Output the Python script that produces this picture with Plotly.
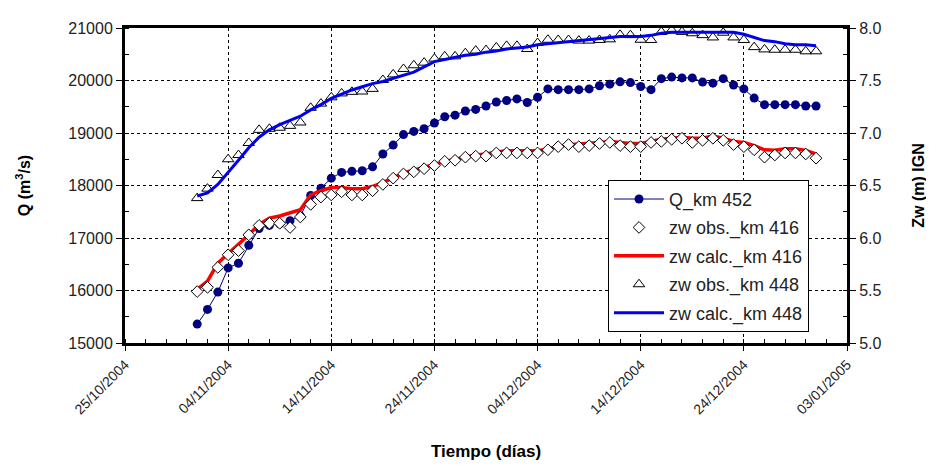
import pandas as pd
import plotly.graph_objects as go

# Daily dates 01/11/2004 .. 31/12/2004
dates = pd.date_range("2004-11-01", "2004-12-31", freq="D")

q_km452 = [15360, 15640, 15970, 16430, 16520, 16860, 17180, 17240, 17270, 17330,
           17420, 17810, 17950, 18140, 18250, 18270, 18280, 18355, 18600, 18770,
           18970, 19030, 19080, 19190, 19310, 19340, 19420, 19450, 19515, 19590,
           19620, 19650, 19580, 19680, 19840, 19825, 19825, 19825, 19840, 19900,
           19930, 19975, 19960, 19885, 19825, 20035, 20065, 20050, 20050, 19970,
           19950, 20035, 19915, 19840, 19665, 19540, 19540, 19540, 19540, 19515,
           19515]

zw_obs_416 = [5.49, 5.53, 5.72, 5.84, 5.88, 6.03, 6.12, 6.14, 6.14, 6.10,
              6.20, 6.32, 6.39, 6.41, 6.44, 6.41, 6.41, 6.45, 6.51, 6.57,
              6.61, 6.63, 6.66, 6.69, 6.73, 6.74, 6.77, 6.78, 6.78, 6.81,
              6.81, 6.81, 6.81, 6.81, 6.84, 6.87, 6.89, 6.87, 6.88, 6.90,
              6.91, 6.88, 6.87, 6.87, 6.91, 6.92, 6.94, 6.95, 6.91, 6.93,
              6.95, 6.93, 6.89, 6.87, 6.84, 6.77, 6.79, 6.81, 6.81, 6.80,
              6.76]

zw_calc_416 = [5.51, 5.59, 5.76, 5.85, 5.93, 6.03, 6.13, 6.19, 6.21, 6.24,
               6.27, 6.41, 6.45, 6.48, 6.48, 6.47, 6.47, 6.49, 6.53, 6.57,
               6.62, 6.645, 6.67, 6.70, 6.73, 6.75, 6.77, 6.79, 6.80, 6.82,
               6.83, 6.83, 6.835, 6.83, 6.85, 6.87, 6.89, 6.895, 6.90, 6.91,
               6.92, 6.91, 6.90, 6.90, 6.92, 6.94, 6.95, 6.96, 6.95, 6.95,
               6.97, 6.95, 6.92, 6.91, 6.88, 6.84, 6.835, 6.85, 6.85, 6.835,
               6.80]

zw_obs_448 = [6.38, 6.47, 6.60, 6.75, 6.79, 6.905, 7.03, 7.04, 7.05, 7.068,
              7.10, 7.24, 7.28, 7.34, 7.377, 7.392, 7.395, 7.42, 7.505, 7.558,
              7.61, 7.645, 7.67, 7.708, 7.73, 7.73, 7.76, 7.785, 7.79, 7.815,
              7.83, 7.83, 7.80, 7.857, 7.888, 7.886, 7.886, 7.88, 7.88, 7.886,
              7.892, 7.935, 7.932, 7.888, 7.886, 7.963, 7.978, 7.963, 7.95, 7.932,
              7.91, 7.955, 7.91, 7.886, 7.818, 7.796, 7.793, 7.793, 7.793, 7.778,
              7.778]

zw_calc_448 = [6.40, 6.43, 6.51, 6.62, 6.74, 6.86, 6.96, 7.03, 7.08, 7.12,
               7.16, 7.22, 7.27, 7.33, 7.37, 7.41, 7.44, 7.47, 7.49, 7.52,
               7.55, 7.58, 7.63, 7.68, 7.70, 7.72, 7.74, 7.75, 7.77, 7.78,
               7.80, 7.81, 7.82, 7.84, 7.85, 7.86, 7.87, 7.88, 7.89, 7.90,
               7.91, 7.92, 7.92, 7.92, 7.93, 7.95, 7.96, 7.96, 7.96, 7.96,
               7.96, 7.96, 7.96, 7.94, 7.91, 7.88, 7.87, 7.85, 7.84, 7.84,
               7.83]

names = ["Q_km 452", "zw obs._km 416", "zw calc._km 416", "zw obs._km 448", "zw calc._km 448"]
x_tick_dates = ["2004-10-25", "2004-11-04", "2004-11-14", "2004-11-24",
                "2004-12-04", "2004-12-14", "2004-12-24", "2005-01-03"]

FONT = "Liberation Sans, Arial, sans-serif"
DAY_MS = 86400000

fig = go.Figure()
fig.add_trace(go.Scatter(x=dates, y=q_km452, name=names[0], mode="lines+markers",
                         line=dict(color="#000080", width=1),
                         marker=dict(symbol="circle", size=9, color="#000080"),
                         legendrank=1, legendgroup="g1"))
fig.add_trace(go.Scatter(x=dates, y=zw_calc_416, name=names[2], mode="lines", yaxis="y2",
                         line=dict(color="#FF0000", width=3.5), legendrank=3, legendgroup="g3"))
fig.add_trace(go.Scatter(x=dates, y=zw_obs_416, name=names[1], mode="markers", yaxis="y2",
                         marker=dict(symbol="diamond", size=9, color="white",
                                     line=dict(color="black", width=1)),
                         legendrank=2, legendgroup="g2"))
fig.add_trace(go.Scatter(x=dates, y=zw_obs_448, name=names[3], mode="markers", yaxis="y2",
                         marker=dict(symbol="triangle-up", size=10, color="white",
                                     line=dict(color="black", width=1)),
                         legendrank=4, legendgroup="g4"))
fig.add_trace(go.Scatter(x=dates, y=zw_calc_448, name=names[4], mode="lines", yaxis="y2",
                         line=dict(color="#0000EE", width=3), legendrank=5, legendgroup="g5"))

fig.update_layout(
    width=934, height=468,
    margin=dict(l=117, r=95, t=12, b=133),
    paper_bgcolor="white", plot_bgcolor="white",
    font=dict(family=FONT, color="#222222", size=15),
    xaxis=dict(
        type="date",
        range=[x_tick_dates[0], x_tick_dates[-1]],
        tickmode="array", tickvals=x_tick_dates,
        tickformat="%d/%m/%Y", tickangle=-45,
        tickfont=dict(size=14),
        ticks="outside", ticklen=5, tickcolor="black",
        minor=dict(ticks="inside", ticklen=4, dtick=2 * DAY_MS, tick0="2004-10-25",
                   tickcolor="black", showgrid=False),
        showline=True, linecolor="black", linewidth=3, mirror=True,
        showgrid=True, gridcolor="black", gridwidth=1, griddash="3px,3px",
        zeroline=False,
        title=dict(text="<b>Tiempo (días)</b>", font=dict(size=17, color="black"), standoff=29),
    ),
    yaxis=dict(
        range=[15000, 21000], dtick=1000, tick0=15000,
        tickformat="d", tickfont=dict(size=16),
        ticks="outside", ticklen=6, tickcolor="black",
        minor=dict(ticks="inside", ticklen=4, dtick=500, tickcolor="black", showgrid=False),
        showline=True, linecolor="black", linewidth=3,
        showgrid=True, gridcolor="black", gridwidth=1, griddash="3px,3px",
        zeroline=False,
        title=dict(text="<b>Q (m<sup>3</sup>/s)</b>", font=dict(size=16, color="black"), standoff=34),
    ),
    yaxis2=dict(
        overlaying="y", side="right",
        range=[5.0, 8.0], dtick=0.5, tick0=5.0, tickformat=".1f",
        tickfont=dict(size=16),
        ticks="outside", ticklen=6, tickcolor="black",
        minor=dict(ticks="inside", ticklen=4, dtick=0.25, tickcolor="black", showgrid=False),
        showline=True, linecolor="black", linewidth=3,
        showgrid=False, zeroline=False,
        title=dict(text="<b>Zw (m) IGN</b>", font=dict(size=16, color="black"), standoff=33),
    ),
    legend=dict(
        x=0.669, y=0.518, xanchor="left", yanchor="top",
        bgcolor="white", bordercolor="black", borderwidth=1,
        font=dict(size=18, color="#222222"),
        tracegroupgap=2, itemwidth=50,
    ),
    showlegend=True,
)

fig.write_html("out.html")
